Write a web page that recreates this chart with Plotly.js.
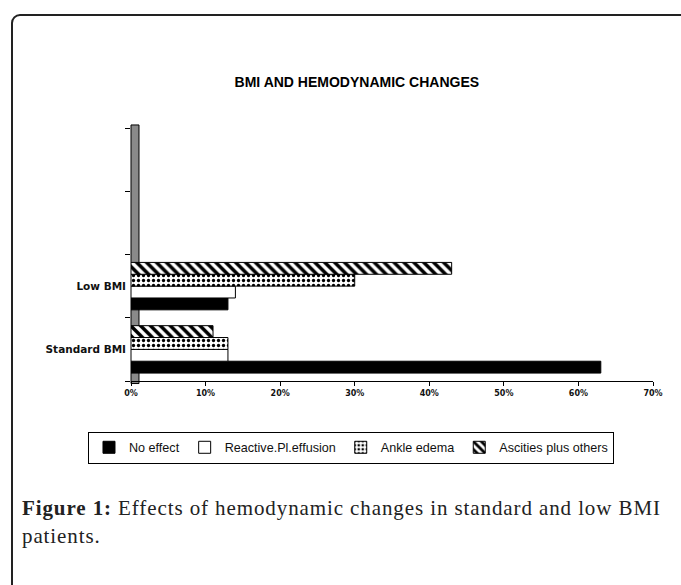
<!DOCTYPE html>
<html>
<head>
<meta charset="utf-8">
<script src="https://cdn.plot.ly/plotly-3.0.1.min.js"></script>
<style>
  html, body { margin: 0; padding: 0; width: 681px; height: 585px; overflow: hidden; background: #fff; }
  #frame { position: absolute; left: 11px; top: 14px; width: 760px; height: 700px;
           border: 2px solid #222; border-top-left-radius: 9px; box-sizing: border-box; }
  #chart { position: absolute; left: 0; top: 0; width: 681px; height: 585px; }
  #caption { position: absolute; left: 22px; top: 494px; width: 650px;
             font-family: "Liberation Serif", "DejaVu Serif", serif; font-size: 21px;
             letter-spacing: 0.9px; line-height: 28px; color: #222; white-space: nowrap; }
</style>
</head>
<body>
<div id="frame"></div>
<div id="chart"></div>
<div id="caption"><b>Figure 1:</b> Effects of hemodynamic changes in standard and low BMI<br>patients.</div>
<script>
// Categories (two empty slots at the top, as in the original)
const categories = ["Standard BMI", "Low BMI", " ", "  "];
const groups = ["Standard BMI", "Low BMI"];
const seriesNames = ["No effect", "Reactive.Pl.effusion", "Ankle edema", "Ascities plus others"];
// Percent values, per group [Standard BMI, Low BMI]
const noEffect = [63, 13];
const reactivePl = [13, 14];
const ankleEdema = [13, 30];
const ascites = [11, 43];
const xTickVals = [0, 10, 20, 30, 40, 50, 60, 70];
const xTickText = ["0%", "10%", "20%", "30%", "40%", "50%", "60%", "70%"];

const line = { color: "#000", width: 1 };
const traces = [
  { name: seriesNames[0], x: noEffect, y: groups, type: "bar", orientation: "h",
    marker: { color: "#000", line: line } },
  { name: seriesNames[1], x: reactivePl, y: groups, type: "bar", orientation: "h",
    marker: { color: "#fff", line: line } },
  { name: seriesNames[2], x: ankleEdema, y: groups, type: "bar", orientation: "h",
    marker: { color: "#fff", line: line,
      pattern: { shape: ".", fgcolor: "#000", bgcolor: "#fff", size: 5, solidity: 0.35 } } },
  { name: seriesNames[3], x: ascites, y: groups, type: "bar", orientation: "h",
    marker: { color: "#fff", line: line,
      pattern: { shape: "\\", fgcolor: "#000", bgcolor: "#fff", size: 7, solidity: 0.5 } } }
];

const layout = {
  width: 681, height: 585,
  paper_bgcolor: "rgba(0,0,0,0)", plot_bgcolor: "#fff",
  margin: { l: 131, r: 28, t: 128, b: 204, pad: 0 },
  barmode: "group", bargap: 0.25, bargroupgap: 0,
  showlegend: true,
  title: { text: "BMI AND HEMODYNAMIC CHANGES", x: 0.524, xanchor: "center",
           y: 1 - 82 / 585, yanchor: "middle",
           font: { family: "Liberation Sans, Arial, sans-serif", size: 14, color: "#000", weight: "bold" } },
  xaxis: { range: [0, 70], tickvals: xTickVals, ticktext: xTickText, showgrid: false, zeroline: false,
           showline: true, linecolor: "#000", linewidth: 1, ticks: "outside", ticklen: 4, tickcolor: "#000",
           tickfont: { family: "DejaVu Sans, sans-serif", size: 8, color: "#111", weight: "bold" } },
  yaxis: { type: "category", categoryorder: "array", categoryarray: categories, range: [-0.5, 3.5],
           tickson: "boundaries", ticks: "outside", ticklen: 5, tickcolor: "#000",
           showgrid: false, showline: false, zeroline: false, ticklabelstandoff: 4,
           tickfont: { family: "DejaVu Sans, sans-serif", size: 10.5, color: "#111", weight: "bold" } },
  legend: { orientation: "h", x: -0.0824, xanchor: "left", y: -0.2, yanchor: "top",
            bgcolor: "#fff", bordercolor: "#000", borderwidth: 1, itemwidth: 30,
            font: { family: "Liberation Sans, Arial, sans-serif", size: 12.6, color: "#111" },
            traceorder: "normal" },
  shapes: [
    { type: "rect", xref: "paper", yref: "paper", x0: 0, x1: 0.0153, y0: -0.01, y1: 1.012,
      fillcolor: "#8a8a8a", line: { color: "#000", width: 1 }, layer: "below" }
  ]
};

Plotly.newPlot("chart", traces, layout, { displayModeBar: false, staticPlot: true });
</script>
</body>
</html>
